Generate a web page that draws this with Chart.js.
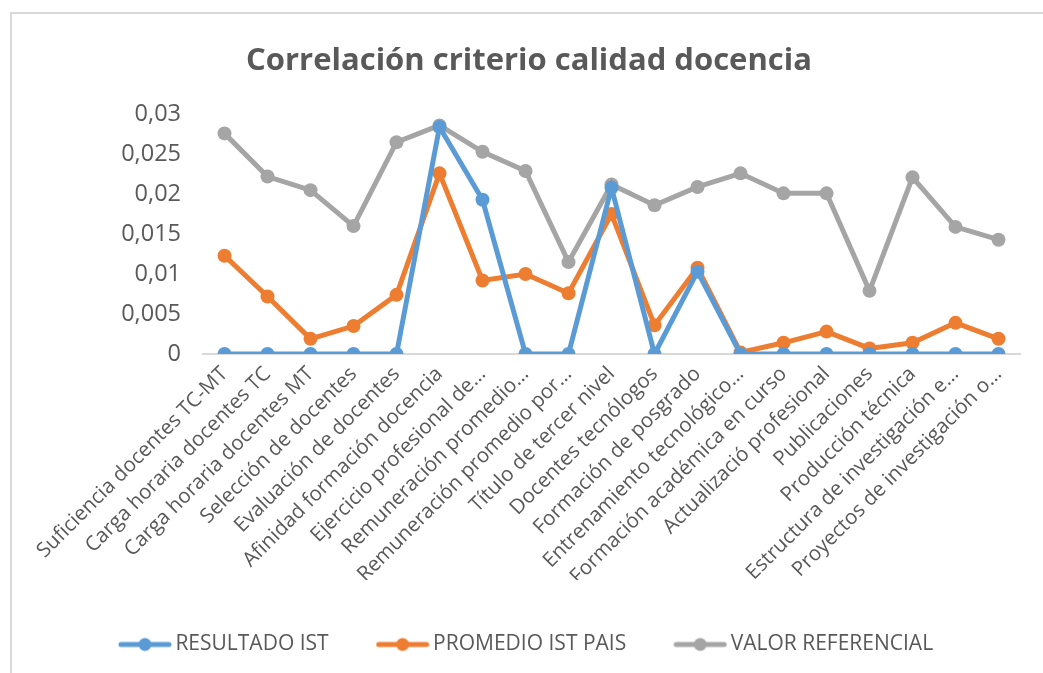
<!DOCTYPE html>
<html>
<head>
<meta charset="utf-8">
<script src="https://cdn.jsdelivr.net/npm/chart.js@4.4.1/dist/chart.umd.min.js"></script>
<style>
  html, body { margin: 0; padding: 0; background: #fff; }
  #wrap { position: relative; width: 1043px; height: 673px; }
  #frame { position: absolute; left: 10px; top: 12px; width: 1040px; height: 670px;
           border: 2px solid #d9d9d9; box-sizing: border-box; pointer-events: none; }
  canvas { position: absolute; left: 0; top: 0; }
</style>
</head>
<body>
<div id="wrap">
  <canvas id="chart" width="1043" height="673"></canvas>
  <div id="frame"></div>
</div>
<script>
// DATA
const categories = [
  'Suficiencia docentes TC-MT',
  'Carga horaria docentes TC',
  'Carga horaria docentes MT',
  'Selección de docentes',
  'Evaluación de docentes',
  'Afinidad formación docencia',
  'Ejercicio profesional de...',
  'Remuneración promedio...',
  'Remuneración promedio por...',
  'Título de tercer nivel',
  'Docentes tecnólogos',
  'Formación de posgrado',
  'Entrenamiento tecnológico...',
  'Formación académica en curso',
  'Actualizació profesional',
  'Publicaciones',
  'Producción técnica',
  'Estructura de investigación e...',
  'Proyectos de investigación o...'
];
const resultadoIst = [0, 0, 0, 0, 0, 0.0284, 0.0193, 0, 0, 0.0208, 0, 0.0103, 0, 0, 0, 0, 0, 0, 0];
const promedioPais = [0.0123, 0.0072, 0.0019, 0.0035, 0.0074, 0.0226, 0.0092, 0.0100, 0.0076, 0.0175,
                      0.0036, 0.0108, 0.0002, 0.0014, 0.0028, 0.0007, 0.0014, 0.0039, 0.0019];
const valorReferencial = [0.0276, 0.0222, 0.0205, 0.0160, 0.0265, 0.0286, 0.0253, 0.0229, 0.0115, 0.0212,
                          0.0186, 0.0209, 0.0226, 0.0201, 0.0201, 0.0079, 0.0221, 0.0159, 0.0143];
const yTicks = [0, 0.005, 0.01, 0.015, 0.02, 0.025, 0.03];

const TEXT = '#595959';
const FONT = "'Open Sans', sans-serif";
const NARROW = "'Liberation Sans Narrow', 'Open Sans', sans-serif";

// legend marker: line with a dot in the middle
function legendMarker(color) {
  const c = document.createElement('canvas');
  c.width = 54; c.height = 16;
  const g = c.getContext('2d');
  g.strokeStyle = color;
  g.lineWidth = 5;
  g.lineCap = 'round';
  g.beginPath(); g.moveTo(3, 8); g.lineTo(51, 8); g.stroke();
  g.fillStyle = color;
  g.beginPath(); g.arc(27, 8, 6.5, 0, Math.PI * 2); g.fill();
  return c;
}

function series(label, data, color) {
  return {
    label, data,
    borderColor: color,
    backgroundColor: color,
    borderWidth: 5,
    pointRadius: 7,
    pointBorderWidth: 0,
    pointBackgroundColor: color,
    pointStyle: 'circle',
    tension: 0,
    legendMarker: legendMarker(color)
  };
}

const ctx = document.getElementById('chart').getContext('2d');
new Chart(ctx, {
  type: 'line',
  data: {
    labels: categories,
    datasets: [
      series('RESULTADO IST', resultadoIst, '#5B9BD5'),
      series('PROMEDIO IST PAIS', promedioPais, '#ED7D31'),
      series('VALOR REFERENCIAL', valorReferencial, '#A5A5A5')
    ]
  },
  options: {
    responsive: false,
    animation: false,
    layout: { padding: { left: 38, right: 23, top: 29, bottom: 8 } },
    scales: {
      x: {
        offset: true,
        grid: { display: false, drawTicks: false },
        border: { color: '#d9d9d9', width: 2 },
        afterFit: axis => { axis.height = 226; },
        ticks: {
          color: TEXT,
          font: { family: FONT, size: 20.5 },
          minRotation: 45, maxRotation: 45,
          autoSkip: false,
          padding: 8
        }
      },
      y: {
        min: 0, max: 0.03,
        afterBuildTicks: axis => { axis.ticks = yTicks.map(v => ({ value: v })); },
        afterFit: axis => { axis.width = 165; },
        grid: { display: false, drawTicks: false },
        border: { display: false },
        ticks: {
          color: TEXT,
          font: { family: FONT, size: 23.5 },
          padding: 22,
          callback: v => String(+v.toFixed(3)).replace('.', ',')
        }
      }
    },
    plugins: {
      title: {
        display: true,
        text: 'Correlación criterio calidad docencia',
        color: TEXT,
        font: { family: FONT, size: 31, weight: 'bold' },
        padding: { top: 14, bottom: 34 }
      },
      legend: {
        position: 'bottom',
        labels: {
          color: TEXT,
          font: { family: NARROW, size: 21 },
          usePointStyle: true,
          pointStyleWidth: 40,
          boxHeight: 16,
          padding: 54,
          generateLabels: chart => chart.data.datasets.map((ds, i) => ({
            text: ds.label,
            fontColor: TEXT,
            pointStyle: ds.legendMarker,
            datasetIndex: i,
            hidden: false,
            lineWidth: 0
          }))
        }
      },
      tooltip: { enabled: false }
    }
  }
});
</script>
</body>
</html>
